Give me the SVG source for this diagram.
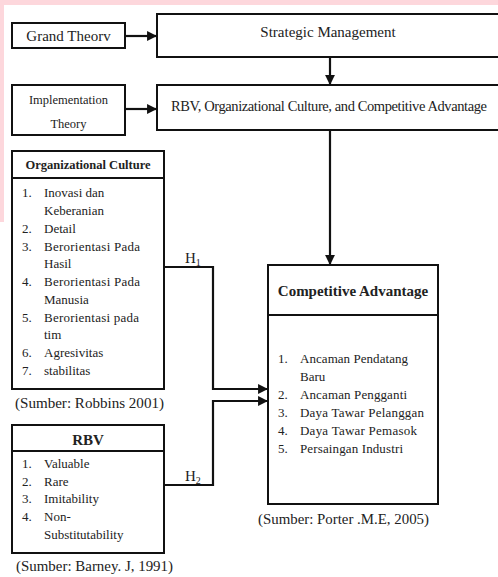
<svg xmlns="http://www.w3.org/2000/svg" width="498" height="577" viewBox="0 0 498 577">
<style>
.box{fill:#fff;stroke:#111;stroke-width:2}
.t{font-family:"Liberation Serif","Times New Roman",serif;fill:#222}
.s13{font-size:13px}
.s15{font-size:15px}
.b{font-weight:bold}
.c{stroke:#111;stroke-width:2.2;fill:none}
</style>
<defs>
<marker id="ah" viewBox="0 0 10 10" refX="9" refY="5" markerWidth="4.5" markerHeight="4.5" orient="auto" markerUnits="strokeWidth">
<path d="M0,0 L10,5 L0,10 z" fill="#111"/>
</marker>
</defs>
<rect x="0" y="0" width="498" height="577" fill="#fff"/>
<rect x="0" y="0" width="498" height="5" fill="#fdd7dc"/>
<rect x="0" y="0" width="4" height="222" fill="#fdd7dc"/>

<g id="grand-theory">
<rect class="box" x="12" y="23" width="113" height="25"/>
<text class="t s15" x="68.5" y="40.5" text-anchor="middle">Grand Theorv</text>
</g>
<g id="strategic-management">
<rect class="box" x="157" y="14" width="350" height="43"/>
<text class="t s15" x="328" y="37" text-anchor="middle">Strategic Management</text>
</g>
<g id="implementation-theory">
<rect class="box" x="12" y="85" width="113" height="50"/>
<text class="t" font-size="12.5" x="68.5" y="104" text-anchor="middle">Implementation</text>
<text class="t" font-size="12.5" x="68.5" y="128" text-anchor="middle">Theory</text>
</g>
<g id="rbv-oc-ca">
<rect class="box" x="157" y="85" width="350" height="45"/>
<text class="t" font-size="14.5" x="171" y="111" textLength="316" lengthAdjust="spacing">RBV, Organizational Culture, and Competitive Advantage</text>
</g>

<g id="organizational-culture">
<rect class="box" x="12" y="151" width="152" height="238"/>
<line x1="12" y1="178" x2="164" y2="178" stroke="#111" stroke-width="2"/>
<text class="t b" font-size="12.5" x="88" y="169" text-anchor="middle">Organizational Culture</text>
<g class="t s13">
<text x="22" y="197">1.</text><text x="44" y="197">Inovasi  dan</text>
<text x="44" y="215">Keberanian</text>
<text x="22" y="233">2.</text><text x="44" y="233">Detail</text>
<text x="22" y="251">3.</text><text x="44" y="251" textLength="96" lengthAdjust="spacing">Berorientasi Pada</text>
<text x="44" y="268">Hasil</text>
<text x="22" y="286">4.</text><text x="44" y="286" textLength="96" lengthAdjust="spacing">Berorientasi Pada</text>
<text x="44" y="304">Manusia</text>
<text x="22" y="322">5.</text><text x="44" y="322" textLength="95" lengthAdjust="spacing">Berorientasi pada</text>
<text x="44" y="339">tim</text>
<text x="22" y="357">6.</text><text x="44" y="357">Agresivitas</text>
<text x="22" y="375">7.</text><text x="44" y="375">stabilitas</text>
</g>
<text class="t s15" x="15" y="408" textLength="149" lengthAdjust="spacingAndGlyphs">(Sumber: Robbins 2001)</text>
</g>

<g id="rbv">
<rect class="box" x="12" y="425" width="152" height="128"/>
<line x1="12" y1="451" x2="164" y2="451" stroke="#111" stroke-width="2"/>
<text class="t b" font-size="15" x="88" y="445" text-anchor="middle">RBV</text>
<g class="t s13">
<text x="22" y="468">1.</text><text x="44" y="468">Valuable</text>
<text x="22" y="486">2.</text><text x="44" y="486">Rare</text>
<text x="22" y="503">3.</text><text x="44" y="503">Imitability</text>
<text x="22" y="521">4.</text><text x="44" y="521">Non-</text>
<text x="44" y="539">Substitutability</text>
</g>
<text class="t s15" x="16" y="571" textLength="157" lengthAdjust="spacingAndGlyphs">(Sumber: Barney. J, 1991)</text>
</g>

<g id="competitive-advantage">
<rect class="box" x="268" y="265" width="170" height="239"/>
<line x1="268" y1="315" x2="438" y2="315" stroke="#111" stroke-width="2"/>
<text class="t b" font-size="15" x="353" y="296" text-anchor="middle">Competitive Advantage</text>
<g class="t s13">
<text x="278" y="363">1.</text><text x="300" y="363" textLength="108" lengthAdjust="spacing">Ancaman Pendatang</text>
<text x="300" y="381">Baru</text>
<text x="278" y="399">2.</text><text x="300" y="399" textLength="107" lengthAdjust="spacing">Ancaman Pengganti</text>
<text x="278" y="417">3.</text><text x="300" y="417" textLength="124" lengthAdjust="spacing">Daya Tawar Pelanggan</text>
<text x="278" y="435">4.</text><text x="300" y="435" textLength="117" lengthAdjust="spacing">Daya Tawar Pemasok</text>
<text x="278" y="453">5.</text><text x="300" y="453" textLength="103" lengthAdjust="spacing">Persaingan Industri</text>
</g>
<text class="t s15" x="258" y="524" textLength="171" lengthAdjust="spacingAndGlyphs">(Sumber: Porter .M.E, 2005)</text>
</g>

<g id="connectors">
<line class="c" x1="125" y1="36" x2="156" y2="36" marker-end="url(#ah)"/>
<line class="c" x1="125" y1="109" x2="156" y2="109" marker-end="url(#ah)"/>
<line class="c" x1="330" y1="57" x2="330" y2="84" marker-end="url(#ah)"/>
<line class="c" x1="330" y1="130" x2="330" y2="264" marker-end="url(#ah)"/>
<polyline class="c" points="164,267 213,267 213,389 267,389" marker-end="url(#ah)"/>
<polyline class="c" points="164,485 213,485 213,401 267,401" marker-end="url(#ah)"/>
<text class="t s15" x="185" y="263">H<tspan font-size="10" dy="3">1</tspan></text>
<text class="t s15" x="185" y="481">H<tspan font-size="10" dy="3">2</tspan></text>
</g>
</svg>
